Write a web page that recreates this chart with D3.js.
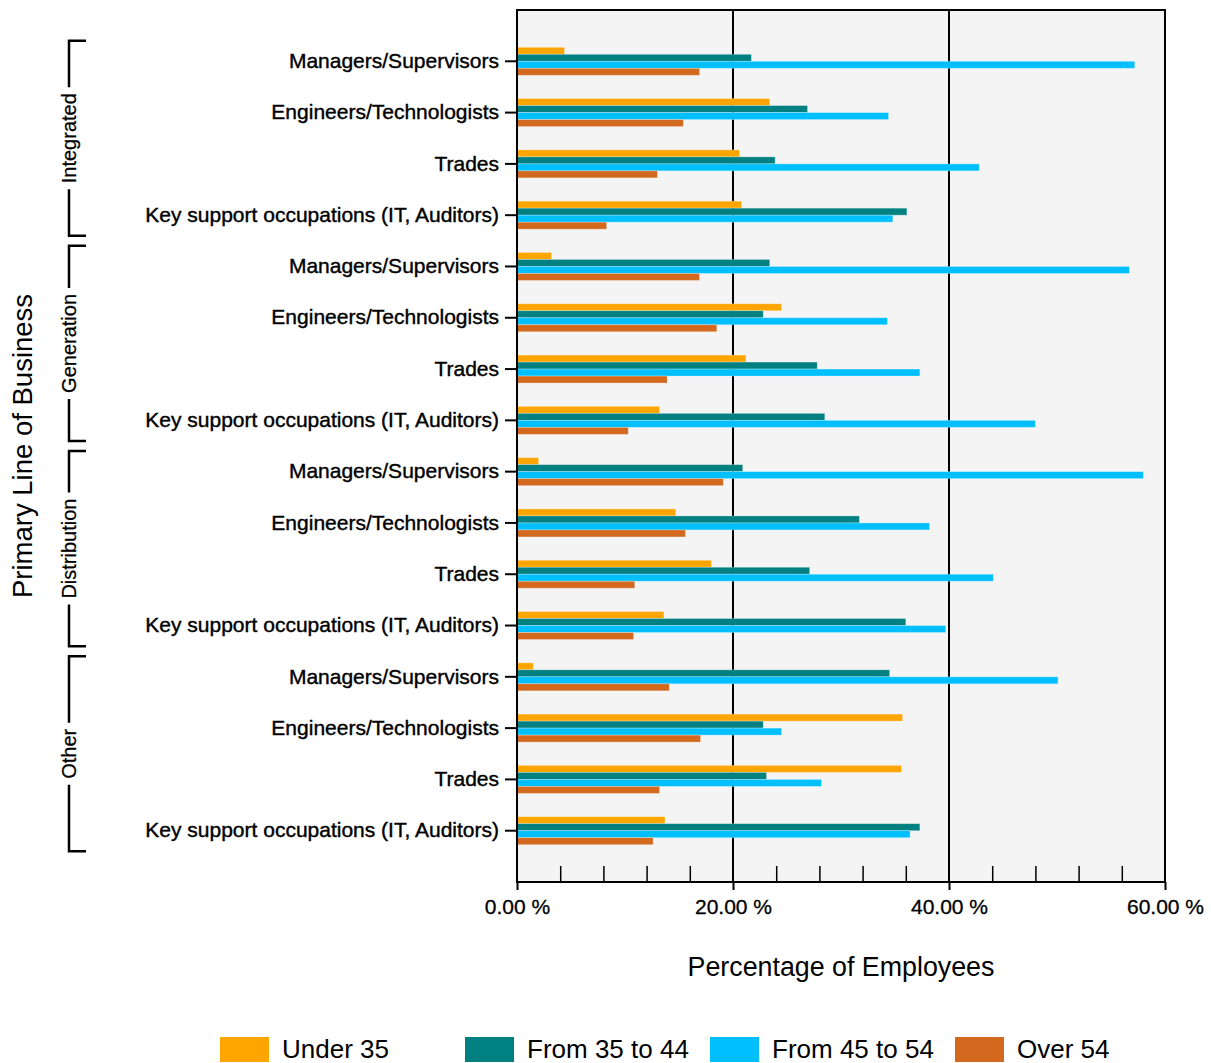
<!DOCTYPE html>
<html>
<head>
<meta charset="utf-8">
<script src="https://cdn.jsdelivr.net/npm/d3@7"></script>
<style>
  body { margin: 0; background: #fff; }
  svg { font-family: "Liberation Sans", Arial, sans-serif; }
</style>
</head>
<body>
<svg id="chart" width="1211" height="1063"></svg>
<script>
const groups = ["Integrated", "Generation", "Distribution", "Other"]
const occupations = ["Managers/Supervisors", "Engineers/Technologists", "Trades", "Key support occupations (IT, Auditors)"]
const series = ["Under 35", "From 35 to 44", "From 45 to 54", "Over 54"]
const colors = ["#FFA500", "#008080", "#00BFFF", "#D2691E"]

// values in %, rows ordered group by group, occupation by occupation
const under35 = [4.4, 23.4, 20.6, 20.8, 3.2, 24.5, 21.2, 13.2, 2.0, 14.7, 18.0, 13.6, 1.5, 35.7, 35.6, 13.7]
const from35to44 = [21.7, 26.9, 23.9, 36.1, 23.4, 22.8, 27.8, 28.5, 20.9, 31.7, 27.1, 36.0, 34.5, 22.8, 23.1, 37.3]
const from45to54 = [57.2, 34.4, 42.8, 34.8, 56.7, 34.3, 37.3, 48.0, 58.0, 38.2, 44.1, 39.7, 50.1, 24.5, 28.2, 36.4]
const over54 = [16.9, 15.4, 13.0, 8.3, 16.9, 18.5, 13.9, 10.3, 19.1, 15.6, 10.9, 10.8, 14.1, 17.0, 13.2, 12.6]

const majorTicks = [0, 20, 40, 60]
const minorTicks = [4, 8, 12, 16, 24, 28, 32, 36, 44, 48, 52, 56]

const valueSets = [under35, from35to44, from45to54, over54]

let rows = []
groups.forEach((g, gi) => {
  occupations.forEach((o, oi) => {
    let idx = gi * occupations.length + oi
    rows.push({ key: g + "|" + o, group: g, name: o, values: valueSets.map(v => v[idx]) })
  })
})

let plot = { left: 517, right: 1165, top: 10, bottom: 882 }
let svg = d3.select("#chart")

let x = d3.scaleLinear().domain([0, 60]).range([plot.left, plot.right])
let y = d3.scaleBand()
  .domain(rows.map(d => d.key))
  .range([plot.top, plot.bottom])
  .paddingInner(0.454)
  .paddingOuter(0.727)
let ySub = d3.scaleBand().domain(series).range([0, y.bandwidth()])

// plot background
svg.append("rect")
  .attr("x", plot.left).attr("y", plot.top)
  .attr("width", plot.right - plot.left).attr("height", plot.bottom - plot.top)
  .attr("fill", "#f4f4f4")

// grid lines
svg.append("g").selectAll("line")
  .data([20, 40])
  .enter().append("line")
  .attr("x1", d => x(d)).attr("x2", d => x(d))
  .attr("y1", plot.top).attr("y2", plot.bottom)
  .attr("stroke", "#000").attr("stroke-width", 2)

// minor ticks inside bottom
let minorAxis = d3.axisBottom(x).tickValues(minorTicks).tickSize(-16).tickFormat("")
svg.append("g")
  .attr("transform", `translate(0,${plot.bottom})`)
  .call(minorAxis)
  .call(g => g.select(".domain").remove())
  .call(g => g.selectAll("line").attr("stroke", "#000").attr("stroke-width", 1.5))

// bars
let rowG = svg.append("g").selectAll("g")
  .data(rows)
  .enter().append("g")
  .attr("transform", d => `translate(0,${y(d.key)})`)

rowG.selectAll("rect")
  .data(d => d.values.map((v, i) => ({ s: series[i], v: v, i: i })))
  .enter().append("rect")
  .attr("x", x(0))
  .attr("y", d => ySub(d.s))
  .attr("width", d => x(d.v) - x(0))
  .attr("height", ySub.bandwidth())
  .attr("fill", d => colors[d.i])
  .attr("stroke", "#fff").attr("stroke-opacity", 0.35).attr("stroke-width", 0.8)

// plot border
svg.append("rect")
  .attr("x", plot.left).attr("y", plot.top)
  .attr("width", plot.right - plot.left).attr("height", plot.bottom - plot.top)
  .attr("fill", "none").attr("stroke", "#000").attr("stroke-width", 2)

// x axis
let xAxis = d3.axisBottom(x)
  .tickValues(majorTicks)
  .tickSize(8).tickPadding(9)
  .tickFormat(d => d.toFixed(2) + " %")
svg.append("g")
  .attr("transform", `translate(0,${plot.bottom})`)
  .call(xAxis)
  .call(g => g.select(".domain").remove())
  .call(g => g.selectAll("line").attr("stroke", "#000").attr("stroke-width", 2))
  .call(g => g.selectAll("text").attr("font-size", 21).attr("fill", "#000")
    .attr("stroke", "#000").attr("stroke-width", 0.3)
    .attr("font-family", "Liberation Sans, Arial, sans-serif"))

// y axis
let yAxis = d3.axisLeft(y)
  .tickSize(12).tickPadding(6)
  .tickFormat(k => k.split("|")[1])
svg.append("g")
  .attr("transform", `translate(${plot.left},0)`)
  .call(yAxis)
  .call(g => g.select(".domain").remove())
  .call(g => g.selectAll("line").attr("stroke", "#000").attr("stroke-width", 2))
  .call(g => g.selectAll("text").attr("font-size", 21).attr("fill", "#000")
    .attr("stroke", "#000").attr("stroke-width", 0.4)
    .attr("font-family", "Liberation Sans, Arial, sans-serif"))

// group brackets
let bx = 69, capEnd = 86
groups.forEach(g => {
  let gRows = rows.filter(r => r.group == g)
  let step = y.step()
  let top = y(gRows[0].key) + y.bandwidth() / 2 - step / 2 + 5
  let bottom = y(gRows[gRows.length - 1].key) + y.bandwidth() / 2 + step / 2 - 5
  let mid = (top + bottom) / 2
  let bg = svg.append("g")
  let label = bg.append("text")
    .attr("transform", `translate(${bx},${mid}) rotate(-90)`)
    .attr("text-anchor", "middle")
    .attr("dy", "0.35em")
    .attr("font-size", 20)
    .attr("stroke", "#000").attr("stroke-width", 0.25)
    .text(g)
  let half = label.node().getComputedTextLength() / 2 + 6
  bg.append("path")
    .attr("d", `M${capEnd},${top}H${bx}V${mid - half}M${bx},${mid + half}V${bottom}H${capEnd}`)
    .attr("fill", "none").attr("stroke", "#000").attr("stroke-width", 2.5)
})

// axis titles
svg.append("text")
  .attr("x", (plot.left + plot.right) / 2).attr("y", 976)
  .attr("text-anchor", "middle").attr("font-size", 26.8)
  .text("Percentage of Employees")
svg.append("text")
  .attr("transform", `translate(22,${(plot.top + plot.bottom) / 2}) rotate(-90)`)
  .attr("text-anchor", "middle").attr("dy", "0.35em").attr("font-size", 27.5)
  .text("Primary Line of Business")

// legend
let legend = svg.append("g").selectAll("g")
  .data(series)
  .enter().append("g")
  .attr("transform", (d, i) => `translate(${220 + i * 245},1037)`)
legend.append("rect")
  .attr("width", 49).attr("height", 25)
  .attr("fill", (d, i) => colors[i])
legend.append("text")
  .attr("x", 62).attr("y", 21)
  .attr("font-size", 26)
  .text(d => d)
</script>
</body>
</html>
